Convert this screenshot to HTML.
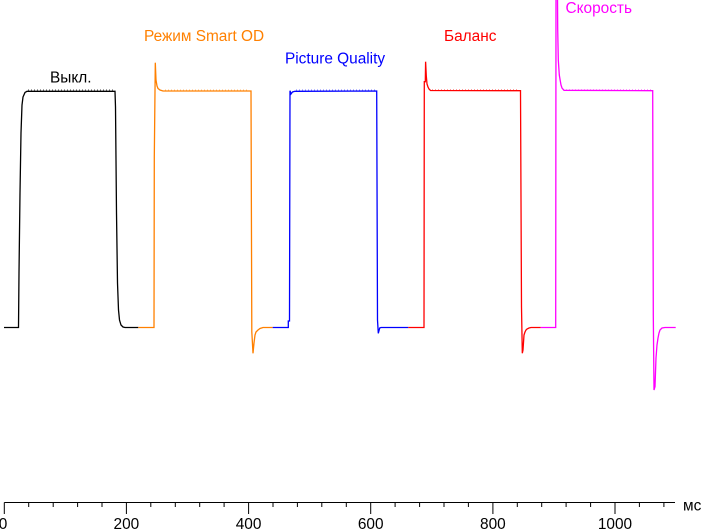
<!DOCTYPE html>
<html><head><meta charset="utf-8"><style>
html,body{margin:0;padding:0;background:#fff;}
svg{display:block;}
text{font-family:"Liberation Sans",Arial,sans-serif;font-size:15.4px;}
</style></head><body>
<svg width="703" height="530" viewBox="0 0 703 530" xmlns="http://www.w3.org/2000/svg">
<g fill="none" stroke-width="1.3" stroke-linejoin="miter">
<path stroke="#000" d="M4,327.5 L18.5,327.5 L19,273 L20,193 L21,133 L22,105 L23,97 L25,92.5 L27,91.3 L115,91.3 L115.5,107 L116.5,213 L117.5,283 L118.5,310 L119.5,320 L121,325 L123,327 L125,327.5 L138.3,327.5"/>
<path stroke="#ff8000" d="M138.3,327.5 L154,327.5 L154.3,157 L155.3,62.7 L156,80 L157,86 L158,88.5 L160,90 L163,91 L251,91 L251.8,331.7 L253,353.3 L254,343 L255,335 L256,332 L258,330 L260,328.5 L263,327.5 L272.7,327.5"/>
<path stroke="#0000ff" d="M272.7,327.5 L288.3,327.5 L288.3,321 L289.5,321 L290,90.7 L291,94 L292.5,92 L295,91.3 L376.7,91 L377.5,320 L378.3,333.3 L379.7,328 L381,327.5 L408.3,327.5"/>
<path stroke="#ff0000" d="M408.3,327.5 L424,327.5 L424.3,81.7 L425.3,81.7 L425.6,61.7 L426.3,76 L427,84 L428,87 L429,89 L430.5,90.5 L520.5,90.7 L521.5,307 L522.3,353.3 L523,350 L524,335 L525,332 L526,330 L527,329 L529,328 L531,327.5 L540.7,327.5"/>
<path stroke="#ff00ff" d="M540.7,327.5 L555.7,327.5 L556,-5 L557.5,-5 L557.7,29 L558.3,60 L559.3,75 L560.3,81 L561,85 L562,88 L564,90.3 L652.7,90.7 L653.3,315 L654,390 L655,386.7 L656,358 L657,345 L658,338 L659,333 L660,330 L662,328 L665,327.5 L675.7,327.5"/>
</g>
<g stroke-width="1" stroke-dasharray="1 2">
<line x1="28" y1="90" x2="114" y2="90" stroke="#000" opacity="0.7"/>
<line x1="165" y1="90" x2="249" y2="90" stroke="#ff8000" opacity="0.5"/>
<line x1="296" y1="90" x2="375" y2="90" stroke="#0000ff" opacity="0.5"/>
<line x1="432" y1="89.8" x2="519" y2="89.8" stroke="#ff0000" opacity="0.5"/>
<line x1="566" y1="89.8" x2="651" y2="89.8" stroke="#ff00ff" opacity="0.5"/>
</g>
<g stroke="#000" stroke-width="1">
<line x1="4.3" y1="502.5" x2="675" y2="502.5"/>
<path d="M4.3,502.5V514 M126.4,502.5V514 M248.6,502.5V514 M370.7,502.5V514 M492.9,502.5V514 M615,502.5V514
M28.7,502.5V507 M53.2,502.5V507 M77.6,502.5V507 M102,502.5V507
M150.8,502.5V507 M175.3,502.5V507 M199.7,502.5V507 M224.1,502.5V507
M273,502.5V507 M297.4,502.5V507 M321.8,502.5V507 M346.3,502.5V507
M395.1,502.5V507 M419.6,502.5V507 M444,502.5V507 M468.4,502.5V507
M517.3,502.5V507 M541.7,502.5V507 M566.1,502.5V507 M590.6,502.5V507
M639.4,502.5V507 M663.9,502.5V507"/>
</g>
<g fill="#000" text-anchor="middle">
<text x="3" y="529">0</text>
<text x="126.4" y="529">200</text>
<text x="248.6" y="529">400</text>
<text x="370.7" y="529">600</text>
<text x="492.9" y="529">800</text>
<text x="615" y="529">1000</text>
</g>
<text x="683" y="510.5" fill="#000">мс</text>
<text x="50" y="82.7" fill="#000">Выкл.</text>
<text x="144" y="41" fill="#ff8000">Режим Smart OD</text>
<text x="285" y="63.5" fill="#0000ff">Picture Quality</text>
<text x="444" y="41" fill="#ff0000">Баланс</text>
<text x="565.5" y="13" fill="#ff00ff">Скорость</text>
</svg>
</body></html>
